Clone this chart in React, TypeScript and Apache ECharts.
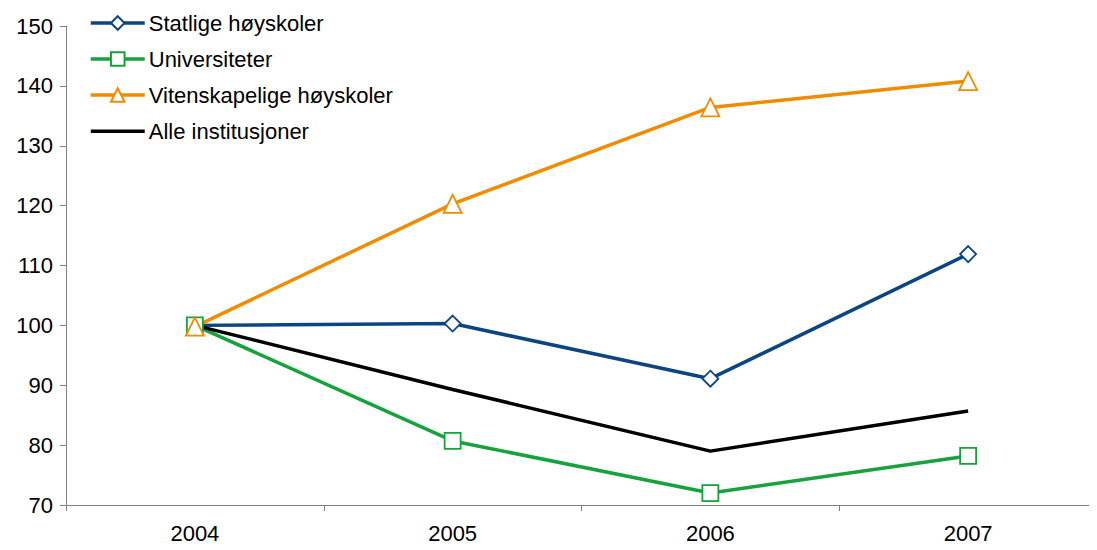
import React, { useEffect, useRef } from "react";
import * as echarts from "echarts";

const years = ["2004", "2005", "2006", "2007"];
const statlige = [100, 100.3, 91.1, 111.9];
const universiteter = [100, 80.7, 72.0, 78.2];
const vitenskapelige = [99.8, 120.3, 136.4, 140.8];
const alle = [100, 89.3, 79.0, 85.7];

const seriesNames = [
  "Statlige høyskoler",
  "Universiteter",
  "Vitenskapelige høyskoler",
  "Alle institusjoner",
];

export default function App() {
  const ref = useRef<HTMLDivElement>(null);
  useEffect(() => {
    if (!ref.current) return;
    const chart = echarts.init(ref.current, undefined, { renderer: "svg" });
    const font = "Liberation Sans, Arial, sans-serif";
    const mk = (name: string, data: number[], color: string, symbol: string, size: number) => ({
      name,
      type: "line",
      data,
      symbol,
      symbolSize: size,
      showSymbol: symbol !== "none",
      lineStyle: { color, width: 3.5 },
      itemStyle: symbol === "none"
        ? { color }
        : { color: "#ffffff", borderColor: color, borderWidth: 1.8 },
      emphasis: { disabled: true },
      z: 2,
    });
    chart.setOption({
      animation: false,
      backgroundColor: "#ffffff",
      textStyle: { fontFamily: font },
      grid: { left: 66, right: -4, top: 26, bottom: 45, containLabel: false },
      legend: {
        orient: "vertical",
        left: 89,
        top: 12,
        padding: 0,
        itemWidth: 54,
        itemHeight: 17,
        itemGap: 14,
        lineStyle: { width: 3.5 },
        textStyle: { fontSize: 22, color: "#000000", fontFamily: font, padding: [0, 0, 0, -1] },
        data: [
          seriesNames[0],
          seriesNames[1],
          seriesNames[2],
          { name: seriesNames[3], icon: "path://M0,0 L0,0.01 Z M0,7 L54,7 L54,10.5 L0,10.5 Z M0,17 L0,17.01 Z" },
        ],
      },
      xAxis: {
        type: "category",
        data: years,
        boundaryGap: true,
        axisLine: { lineStyle: { color: "#7f7f7f", width: 1 } },
        axisTick: { show: true, length: 6, lineStyle: { color: "#7f7f7f" } },
        axisLabel: { fontSize: 22, color: "#000000", margin: 17, fontFamily: font },
        splitLine: { show: false },
      },
      yAxis: {
        type: "value",
        min: 70,
        max: 150,
        interval: 10,
        axisLine: { show: true, lineStyle: { color: "#7f7f7f", width: 1 } },
        axisTick: { show: true, length: 6, lineStyle: { color: "#7f7f7f" } },
        axisLabel: { fontSize: 22, color: "#000000", margin: 13, fontFamily: font },
        splitLine: { show: false },
      },
      series: [
        mk(seriesNames[0], statlige, "#0b4680", "diamond", 16),
        mk(seriesNames[1], universiteter, "#17a23c", "rect", 16),
        mk(seriesNames[2], vitenskapelige, "#f08c00", "triangle", 18),
        mk(seriesNames[3], alle, "#000000", "none", 1),
      ],
    });
    return () => chart.dispose();
  }, []);
  return <div ref={ref} style={{ width: 1097, height: 550, margin: -8 }} />;
}
